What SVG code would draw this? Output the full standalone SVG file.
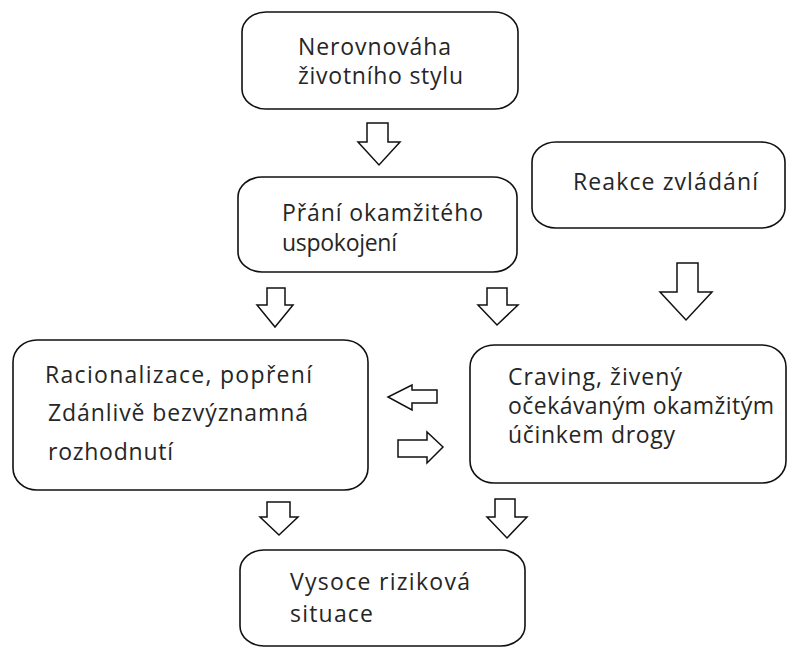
<svg xmlns="http://www.w3.org/2000/svg" width="801" height="650" viewBox="0 0 801 650">
<style>
.box{fill:#fff;stroke:#111;stroke-width:1.6}
.arr{fill:#fff;stroke:#111;stroke-width:1.5;stroke-linejoin:miter}
text{font-family:"Open Sans","Noto Sans","Liberation Sans",sans-serif;font-size:23px;fill:#262626}
</style>
<rect width="801" height="650" fill="#fff"/>
<g id="n1"><rect class="box" x="242" y="12" width="276" height="97" rx="24" ry="20"/>
<text x="298" y="55" textLength="153">Nerovnováha</text>
<text x="298" y="84" textLength="165">životního stylu</text></g>
<g id="n2"><rect class="box" x="238" y="177" width="279" height="95" rx="24" ry="20"/>
<text x="282" y="221" textLength="201">Přání okamžitého</text>
<text x="282" y="251" textLength="115">uspokojení</text></g>
<g id="n3"><rect class="box" x="532" y="142" width="253" height="86" rx="24" ry="20"/>
<text x="573" y="190" textLength="185">Reakce zvládání</text></g>
<g id="n4"><rect class="box" x="13" y="340" width="355" height="150" rx="24" ry="22"/>
<text x="45" y="383" textLength="267">Racionalizace, popření</text>
<text x="48" y="421" textLength="260">Zdánlivě bezvýznamná</text>
<text x="48" y="460" textLength="125">rozhodnutí</text></g>
<g id="n5"><rect class="box" x="470" y="345" width="316" height="138" rx="24" ry="22"/>
<text x="508" y="385" textLength="174">Craving, živený</text>
<text x="508" y="414" textLength="266">očekávaným okamžitým</text>
<text x="508" y="443" textLength="167">účinkem drogy</text></g>
<g id="n6"><rect class="box" x="240" y="550" width="285" height="96" rx="24" ry="20"/>
<text x="290" y="590" textLength="180">Vysoce riziková</text>
<text x="290" y="622" textLength="83">situace</text></g>
<g id="connectors">
<polygon class="arr" points="367,123 388,123 388,142 400,142 379,165 358,142 367,142"/>
<polygon class="arr" points="267,288 285,288 285,305 293,305 275,327 257,305 267,305"/>
<polygon class="arr" points="487,288 507,288 507,305 518,305 497,325 478,305 487,305"/>
<polygon class="arr" points="677,263 698,263 698,292 712,292 686,320 660,292 677,292"/>
<polygon class="arr" points="267,502 290,502 290,517 298,517 279,535 260,517 267,517"/>
<polygon class="arr" points="495,499 515,499 515,517 527,517 507,538 487,517 495,517"/>
<polygon class="arr" points="437,390 437,403 412,403 412,410 388,397 412,385 412,390"/>
<polygon class="arr" points="398,440 427,440 427,432 443,447 427,463 427,457 398,457"/>
</g>
</svg>
